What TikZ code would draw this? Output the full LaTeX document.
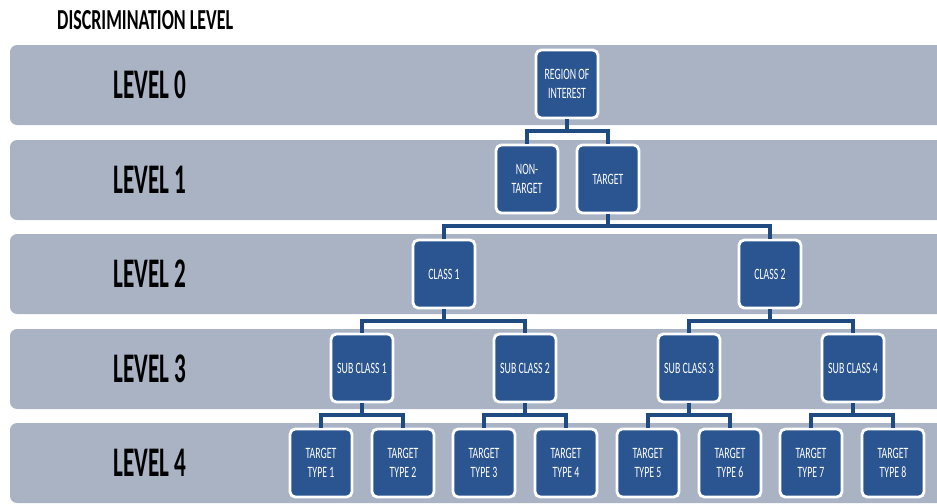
\documentclass[tikz,border=0pt]{standalone}
\usepackage{fontspec}
\newfontfamily\narrowfont{Carlito}[FakeStretch=0.62]
\newfontfamily\lvfont{Carlito}[FakeStretch=0.55]
\definecolor{bandgray}{HTML}{A9B3C4}
\definecolor{boxblue}{HTML}{2B5591}
\definecolor{linkblue}{HTML}{1F4A82}
\tikzset{
  band/.style={fill=bandgray, draw=none, rounded corners=4pt},
  lvl/.style={font=\lvfont\bfseries\fontsize{24}{26}\selectfont, text=black},
  box/.style={draw=white, line width=1.6pt, fill=boxblue, rounded corners=3pt,
    minimum width=1.24cm, minimum height=1.36cm, inner sep=1pt, align=center,
    text=white, font=\narrowfont\fontsize{9}{10.8}\selectfont},
  link/.style={draw=linkblue, line width=2pt}
}
\begin{document}
\begin{tikzpicture}[x=0.02cm, y=-0.02cm]
  \useasboundingbox (0,0) rectangle (937,504);
  %% titre et bandes des niveaux
  \node[font=\narrowfont\bfseries\fontsize{16.5}{19}\selectfont, anchor=west] (title) at (51,20) {DISCRIMINATION LEVEL};
  \foreach \i/\y in {0/45, 1/140, 2/234, 3/329, 4/423} {
    \fill[band] (10,\y) rectangle (945,\y+80);
    \node[lvl] (lv\i) at (150,\y+40) {LEVEL \i};
  }

  %% niveau 0 et 1
  \node[box] (roi) at (567,84) {REGION OF\\INTEREST};
  \node[box] (nontgt) at (527,179) {NON-\\TARGET};
  \node[box] (tgt) at (608,179) {TARGET};

  %% niveau 2
  \node[box] (cls1) at (444,274) {CLASS 1};
  \node[box] (cls2) at (770,274) {CLASS 2};

  %% niveau 3
  \node[box] (sub1) at (362,368) {SUB CLASS 1};
  \node[box] (sub2) at (525,368) {SUB CLASS 2};
  \node[box] (sub3) at (689,368) {SUB CLASS 3};
  \node[box] (sub4) at (853,368) {SUB CLASS 4};

  %% niveau 4
  \foreach \k/\x in {1/321, 2/403, 3/484, 4/566, 5/648, 6/730, 7/811, 8/893}
    \node[box] (tt\k) at (\x,463) {TARGET\\TYPE \k};

  %% liaisons
  \foreach \p/\c in {roi/nontgt, roi/tgt}
    \draw[link] (\p.south) -- (\p.south |- 0,131) -| (\c.north);
  \foreach \p/\c in {tgt/cls1, tgt/cls2}
    \draw[link] (\p.south) -- (\p.south |- 0,226) -| (\c.north);
  \foreach \p/\c in {cls1/sub1, cls1/sub2, cls2/sub3, cls2/sub4}
    \draw[link] (\p.south) -- (\p.south |- 0,321) -| (\c.north);
  \foreach \p/\c in {sub1/tt1, sub1/tt2, sub2/tt3, sub2/tt4, sub3/tt5, sub3/tt6, sub4/tt7, sub4/tt8}
    \draw[link] (\p.south) -- (\p.south |- 0,415) -| (\c.north);
\end{tikzpicture}
\end{document}
